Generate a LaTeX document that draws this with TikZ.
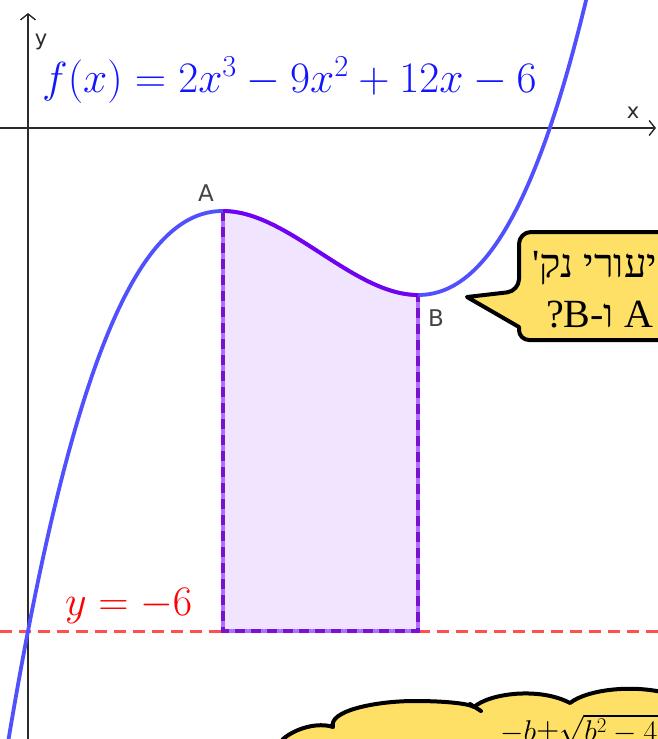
\RequirePackage{fix-cm}
\documentclass[tikz,border=0pt]{standalone}
\usepackage{fontspec}
\usetikzlibrary{arrows.meta}
\newfontfamily\hebfont[Script=Hebrew]{Liberation Serif}
\newfontfamily\lblfont{DejaVu Sans}
\TeXXeTstate=1
\definecolor{axisgray}{HTML}{2A2A2A}
\definecolor{curveblue}{HTML}{5050FF}
\definecolor{textblue}{HTML}{1414FF}
\definecolor{curvepurple}{HTML}{7400F2}
\definecolor{regionfill}{HTML}{F0E4FF}
\definecolor{edgedark}{HTML}{7A10D0}
\definecolor{edgelight}{HTML}{B070FF}
\definecolor{redline}{HTML}{FF5050}
\definecolor{labelgray}{HTML}{444444}
\definecolor{bubbleyellow}{HTML}{FFE066}
\begin{document}
\begin{tikzpicture}[x=1pt,y=-1pt,
  axisline/.style={draw=axisgray, line width=1.4pt, -{Straight Barb[length=6pt,width=15pt,line width=1.4pt]}},
  axislabel/.style={font=\lblfont\fontsize{21}{25}\selectfont, text=axisgray, inner sep=0pt},
  ptlabel/.style={font=\lblfont\fontsize{23}{27}\selectfont, text=labelgray, inner sep=0pt},
  bluecurve/.style={draw=curveblue, line width=3.8pt},
  purplecurve/.style={draw=curvepurple, line width=3.8pt},
  edgeback/.style={draw=edgelight, line width=3.6pt},
  edgefront/.style={draw=edgedark, line width=3.6pt, dash pattern=on 10pt off 6pt},
  reddash/.style={draw=redline, line width=3pt, dash pattern=on 12pt off 7pt},
  calloutshape/.style={fill=bubbleyellow, draw=black, line width=4pt, line join=round},
]
\useasboundingbox (0,0) rectangle (658,739);
\clip (0,0) rectangle (658,739);

% axes
\coordinate (xstart) at (0,128);
\coordinate (xend) at (656,128);
\coordinate (ystart) at (28,739);
\coordinate (yend) at (28,13);
\draw[axisline] (xstart) -- (xend);
\draw[axisline] (ystart) -- (yend);
\node[axislabel] (xlabel) at (633,113) {x};
\node[axislabel] (ylabel) at (41,42) {y};

% y = -6 line
\coordinate (rstart) at (0,631);
\coordinate (rend) at (658,631);
\draw[reddash] (rstart) -- (rend);

% function
\begin{scope}[shift={(28,127)}, x=195pt, y=84pt]
  \fill[regionfill] (1,-6) -- plot[domain=1:2,samples=60] (\x,{2*\x*\x*\x-9*\x*\x+12*\x-6}) -- (2,-6) -- cycle;
  \draw[edgeback] (1,-1) -- (1,-6) -- (2,-6) -- (2,-2);
  \draw[edgefront] (1,-1) -- (1,-6) -- (2,-6) -- (2,-2);
  \draw[bluecurve] plot[domain=-0.17:2.92,samples=240] (\x,{2*\x*\x*\x-9*\x*\x+12*\x-6});
  \draw[purplecurve] plot[domain=1:2,samples=80] (\x,{2*\x*\x*\x-9*\x*\x+12*\x-6});
  \coordinate (A) at (1,-1);
  \coordinate (B) at (2,-2);
\end{scope}

\node[ptlabel] (labA) at (206,193) {A};
\node[ptlabel] (labB) at (436,318) {B};

% formulas
\node[anchor=base west, inner sep=0pt, text=textblue] (ftext) at (42,92)
  {\fontsize{43.5}{52}\selectfont $f(x)=2x^3-9x^2+12x-6$};
\node[anchor=base west, inner sep=0pt, text=red] (ylinetext) at (65,615)
  {\fontsize{42}{50}\selectfont $y=-6$};

% speech bubble
\draw[calloutshape] (720,232) [rounded corners=12pt] -- (519,232) -- (519,291) [sharp corners] -- (467,297) -- (519,327) [rounded corners=10pt] -- (519,340) -- (720,340);
\node[anchor=base west, inner sep=0pt] (q1) at (532,277)
  {\hebfont\fontsize{40}{48}\selectfont\beginR מהם שיעורי נק'\endR};
\node[anchor=base west, inner sep=0pt] (q2) at (546,327)
  {\hebfont\fontsize{40}{48}\selectfont ?B-ו A};

% cloud
\draw[calloutshape] (275,760) -- (283,739)
  .. controls (296,728) and (318,722) .. (333,727)
  .. controls (328,711) and (375,701) .. (415,701)
  .. controls (448,701) and (470,704) .. (474,707)
  .. controls (490,693) and (540,687) .. (570,703)
  .. controls (588,689) and (635,684) .. (670,694)
  -- (680,760) -- cycle;
\draw[black, line width=4pt, line cap=round] (470,704) -- (481,711);
\node[anchor=base west, inner sep=0pt] (qf) at (500,741)
  {\fontsize{30}{36}\selectfont $-b{\pm}\sqrt{b^2-4ac}$};
\end{tikzpicture}
\end{document}
